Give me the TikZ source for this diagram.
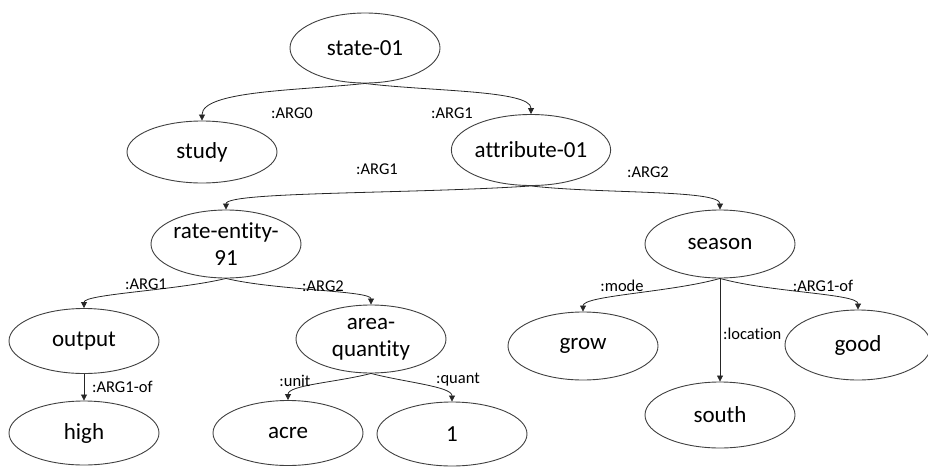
\documentclass[tikz,border=0pt]{standalone}
\usepackage{fontspec}
\setmainfont{Carlito}[Ligatures=NoCommon]
\usetikzlibrary{shapes.geometric,arrows.meta}
\tikzset{
  amr/.style={ellipse, draw=black!75, line width=0.9pt, minimum width=150pt, minimum height=68pt, inner sep=0pt, align=center, font=\fontsize{23}{27}\selectfont},
  edge/.style={draw=black!85, line width=0.8pt, -{Triangle[length=6pt,width=6pt]}},
  lbl/.style={font=\fontsize{16.5}{17}\selectfont, inner sep=0pt}
}
\begin{document}
\begin{tikzpicture}[x=1pt,y=-1pt]
\useasboundingbox (0,0) rectangle (928,466);
% nodes
\node[amr, minimum height=70pt] (state) at (365,48) {state-01};
\node[amr, minimum height=62pt] (study) at (202,152) {study};
\node[amr, minimum width=153pt, minimum height=71pt] (attr) at (531,150) {attribute-01};
\node[amr] (rate) at (226,244) {rate-entity-\\91};
\node[amr, minimum height=65pt] (output) at (84,341) {output};
\node[amr, minimum height=64pt] (high) at (84,433) {high};
\node[amr] (area) at (371,339) {area-\\quantity};
\node[amr, minimum height=65pt] (acre) at (288,433) {acre};
\node[amr, minimum height=64pt] (one) at (452,434) {1};
\node[amr] (season) at (720,244) {season};
\node[amr] (grow) at (583,346) {grow};
\node[amr, minimum width=146pt, minimum height=70pt] (good) at (858,345) {good};
\node[amr, minimum height=66pt] (south) at (720,415) {south};
% edges
\draw[edge] (state.south) .. controls +(-65,7) and +(0,-30) .. (study.north);
\draw[edge] (state.south) .. controls +(65,8) and +(0,-24) .. (attr.north);
\draw[edge] (attr.south) .. controls +(-120,8) and +(0,-18) .. (rate.north);
\draw[edge] (attr.south) .. controls +(70,8) and +(0,-20) .. (season.north);
\draw[edge] (rate.south) .. controls +(-50,12) and +(0,-14) .. (output.north);
\draw[edge] (rate.south) .. controls +(50,12) and +(0,-14) .. (area.north);
\draw[edge] (output.south) -- (high.north);
\draw[edge] (area.south) .. controls +(-35,9) and +(0,-15) .. (acre.north);
\draw[edge] (area.south) .. controls +(35,9) and +(0,-15) .. (one.north);
\draw[edge] (season.south) .. controls +(-50,14) and +(0,-16) .. (grow.north);
\draw[edge] (season.south) .. controls +(50,14) and +(0,-16) .. (good.north);
\draw[edge] (season.south) -- (south.north);
% labels
\node[lbl] (l1) at (292,113) {:ARG0};
\node[lbl] (l2) at (452,113) {:ARG1};
\node[lbl] (l3) at (377,169) {:ARG1};
\node[lbl] (l4) at (648,172) {:ARG2};
\node[lbl] (l5) at (146,284) {:ARG1};
\node[lbl] (l6) at (323,286) {:ARG2};
\node[lbl, anchor=west] (l7) at (92,387) {:ARG1-of};
\node[lbl] (l8) at (295,381) {:unit};
\node[lbl] (l9) at (458,380) {:quant};
\node[lbl] (l10) at (622,286) {:mode};
\node[lbl] (l11) at (823,286) {:ARG1-of};
\node[lbl, anchor=west] (l12) at (723,334) {:location};
\end{tikzpicture}
\end{document}
